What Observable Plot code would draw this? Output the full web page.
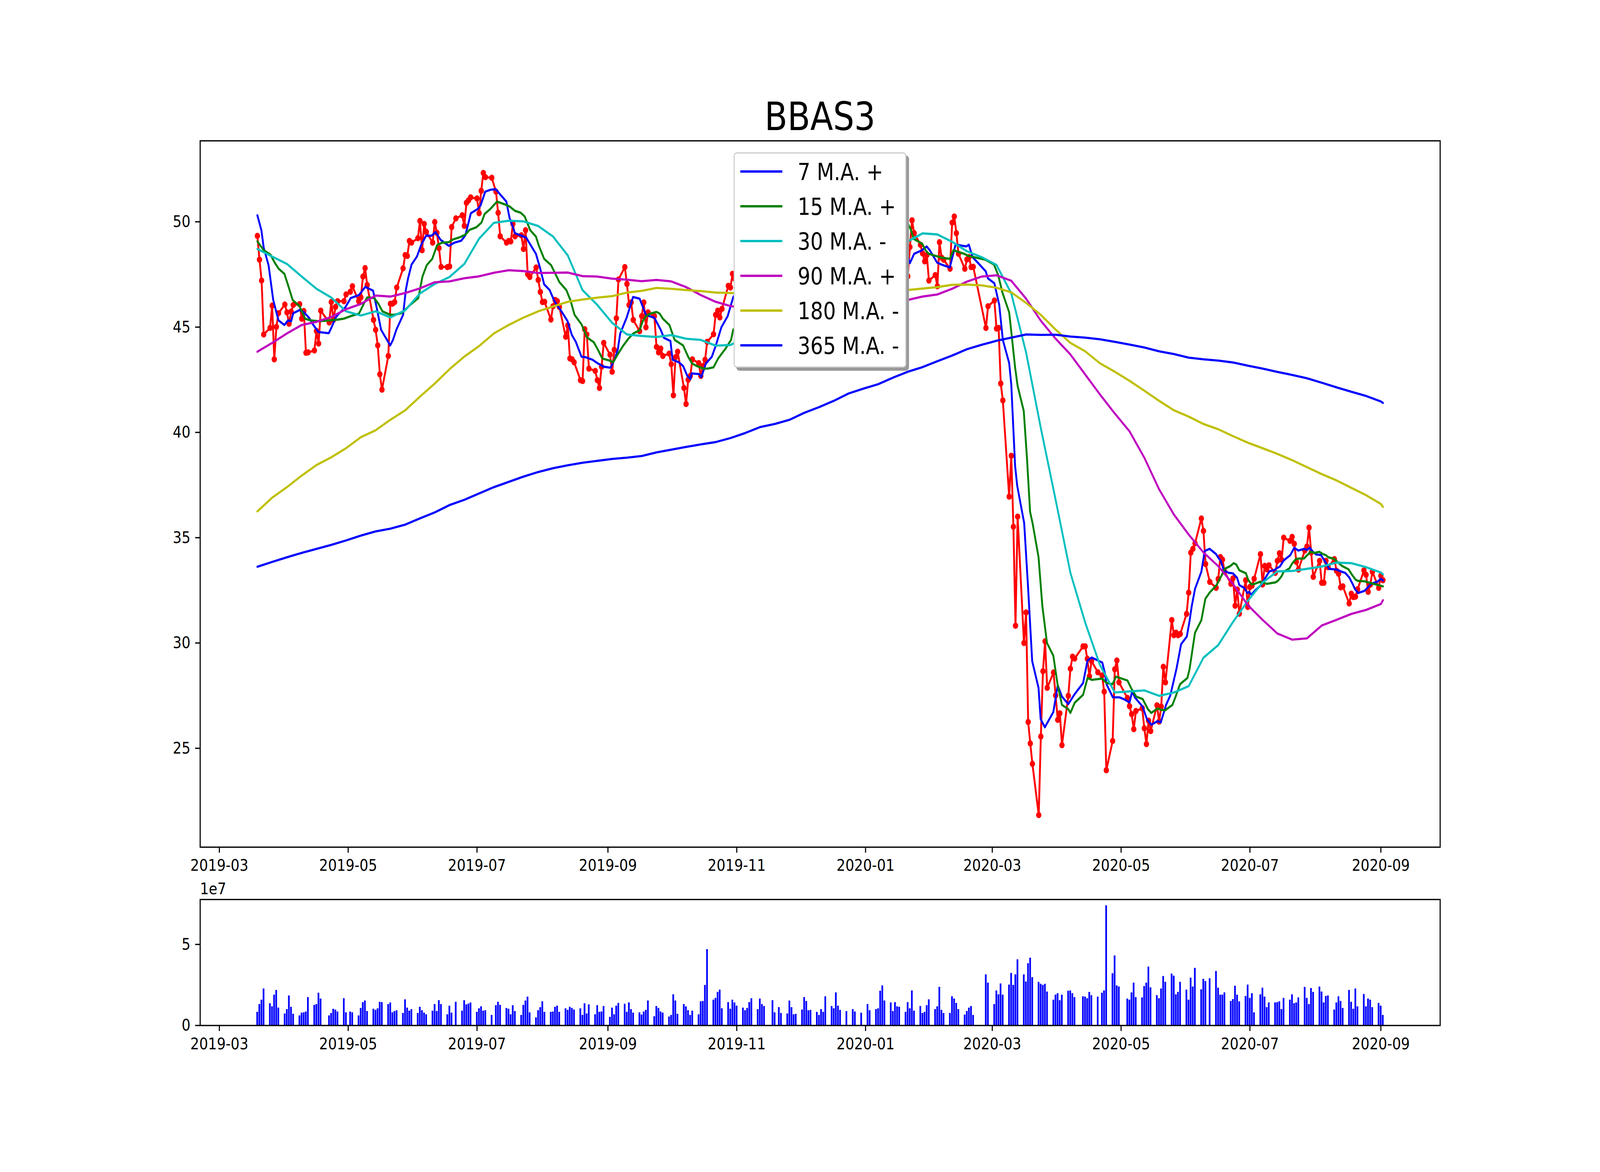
<!DOCTYPE html>
<html>
<head>
<meta charset="utf-8">
<script src="https://cdn.jsdelivr.net/npm/d3@7"></script>
<script src="https://cdn.jsdelivr.net/npm/@observablehq/plot@0.6"></script>
<style>
html,body{margin:0;padding:0;background:#fff;overflow:hidden;width:100%;height:100%;}
#fig{position:absolute;left:0;top:0;width:4800px;height:3000px;background:#fff;font-family:"DejaVu Sans",sans-serif;overflow:hidden;transform-origin:0 0;}
#title{position:absolute;left:600px;width:3720px;top:249px;text-align:center;font-size:100px;line-height:100px;color:#000;}
#main{position:absolute;left:0;top:0;}
#vol{position:absolute;left:0;top:2250px;}
#offset{position:absolute;left:600px;top:2254px;font-size:41.67px;line-height:41.67px;color:#000;}
#legend{position:absolute;left:2201px;top:390px;width:512px;height:545px;background:#fff;border:3px solid #cccccc;border-radius:9px;box-shadow:8px 8px 0 0 #999999;}
.sw{position:absolute;left:17px;width:126px;height:5.6px;}
.lab{position:absolute;left:189px;font-size:60px;line-height:60px;white-space:nowrap;color:#000;}
</style>
</head>
<body>
<div id="fig">
  <div id="main"></div>
  <div id="vol"></div>
  <div id="title">BBAS3</div>
  <div id="offset">1e7</div>
  <div id="legend"></div>
</div>
<script>
// ---------- data ----------
const TITLE = "BBAS3";
const START = "2019-03-19";
const END = "2020-09-02";
const EPOCH = "2019-03-01"; // day 0 for the moving-average key points
// B3 non-trading weekdays inside the range
const HOLIDAYS = ["2019-04-19","2019-05-01","2019-06-20","2019-07-09","2019-11-15","2019-11-20",
  "2019-12-24","2019-12-25","2019-12-31","2020-01-01","2020-02-24","2020-02-25","2020-02-26",
  "2020-04-10","2020-04-21","2020-05-01","2020-06-11"];
const X_TICK_LABELS = ["2019-03","2019-05","2019-07","2019-09","2019-11","2020-01","2020-03","2020-05","2020-07","2020-09"];
const Y_TICKS = [25,30,35,40,45,50];
const VOL_TICKS = [0,50];          // millions
const VOL_TICK_LABELS = ["0","5"]; // x 1e7

// closing price, one value per trading day
const PRICE = [
  // 2019-03
  49.33,48.20,47.21,44.65,44.96,46.02,43.47,45.01,45.66,
  // 2019-04
  46.07,45.70,45.16,45.74,46.05,46.09,45.40,45.76,43.78,43.80,43.89,44.81,44.22,45.78,45.22,46.19,45.34,45.96,46.23,46.23,46.55,
  // 2019-05
  46.68,46.94,46.23,46.41,47.40,47.80,47.00,45.34,44.87,44.13,42.76,42.03,43.63,46.11,46.11,46.19,46.88,47.79,48.42,48.38,49.09,49.01,
  // 2019-06
  49.22,50.04,48.65,49.90,49.52,49.01,49.99,49.48,48.75,47.86,47.85,47.88,49.75,50.16,50.31,49.81,50.90,51.02,51.16,
  // 2019-07
  51.11,50.41,51.47,52.32,52.12,52.09,51.43,50.43,49.31,49.01,49.09,49.07,49.90,49.31,49.36,48.71,49.60,47.51,47.38,47.83,47.24,46.67,
  // 2019-08
  46.19,46.20,45.36,45.99,46.29,46.23,45.96,44.54,45.08,43.51,43.47,43.33,42.48,42.44,44.90,44.65,43.03,42.92,42.48,42.11,43.12,44.25,
  // 2019-09
  43.69,42.88,43.92,45.42,47.26,47.85,47.05,46.05,46.17,45.34,44.81,45.52,46.17,44.99,45.70,45.52,44.06,43.80,43.98,43.63,43.74,
  // 2019-10
  43.24,41.76,43.57,43.83,42.11,41.35,42.50,42.68,43.47,43.29,42.68,43.15,43.45,44.30,44.66,45.58,45.78,45.46,45.87,46.96,46.88,47.53,47.30,
  // 2019-11
  47.8,48.3,48.9,48.6,49.2,48.8,48.1,47.6,47.9,48.4,47.7,48.0,48.5,47.6,47.2,47.5,48.1,48.6,48.9,
  // 2019-12
  49.2,49.6,49.3,49.8,50.2,50.0,49.7,50.4,50.8,51.0,50.6,51.2,51.4,51.0,50.7,51.1,51.5,51.2,50.6,
  // 2020-01
  51.3,50.8,50.5,50.9,50.2,49.6,50.1,49.8,50.4,50.7,50.0,49.6,48.5,47.41,48.8,50.07,49.46,48.91,48.5,48.12,48.42,47.21,
  // 2020-02
  47.47,46.94,49.03,48.30,48.20,47.77,49.96,50.25,49.46,48.48,47.77,48.21,48.32,47.85,47.86,44.96,45.99,
  // 2020-03
  46.26,44.93,44.96,42.32,41.52,36.95,38.89,35.52,30.82,36.00,30.00,31.45,26.25,25.23,24.26,21.83,25.56,28.66,30.08,27.87,28.60,27.51,
  // 2020-04
  26.35,26.66,25.15,27.49,28.78,29.35,29.26,29.84,29.84,29.25,28.42,29.14,28.61,28.46,27.69,23.96,25.35,28.75,29.17,28.13,
  // 2020-05
  27.39,27.00,26.62,25.91,26.77,26.90,25.95,25.20,26.31,25.82,27.04,26.27,26.98,28.87,28.13,31.09,30.37,30.49,30.37,30.43,
  // 2020-06
  31.38,32.39,34.29,34.47,34.73,35.91,35.32,33.75,32.90,32.62,33.04,34.08,33.96,33.39,32.81,33.07,31.77,32.54,31.39,32.98,31.71,
  // 2020-07
  32.66,32.72,33.05,34.22,32.78,33.66,33.50,33.69,33.33,33.90,34.26,33.95,35.00,34.85,35.04,34.71,33.85,33.49,34.39,34.58,35.48,34.30,33.14,
  // 2020-08
  33.90,32.86,32.86,33.90,33.60,33.98,33.43,33.29,32.64,32.69,31.88,32.34,32.18,32.20,32.55,33.45,33.24,32.43,32.77,33.38,32.62,
  // 2020-09
  33.19,32.98
];

// traded volume in millions, one value per trading day
const VOLUME = [
  // 2019-03
  8.3,13.1,15.8,22.7,13.6,11.7,18.9,21.8,10.9,
  // 2019-04
  7.3,10.0,18.4,11.4,7.1,6.1,7.8,8.0,8.5,17.4,12.6,13.1,20.1,16.5,6.1,7.6,10.2,9.7,8.5,16.7,8.0,
  // 2019-05
  8.5,8.0,6.1,10.7,14.3,15.3,8.8,10.2,9.5,10.5,14.5,14.3,13.1,14.1,8.0,8.8,9.3,7.6,16.0,10.9,9.0,10.0,
  // 2019-06
  7.6,11.4,9.3,7.8,6.8,9.0,13.1,8.8,15.5,13.1,6.8,12.1,7.8,14.5,9.0,15.5,12.9,13.4,14.1,
  // 2019-07
  8.3,10.5,11.7,9.0,9.3,6.4,12.4,14.5,12.6,10.7,10.2,6.8,12.4,8.8,6.4,12.6,15.3,17.7,8.0,4.9,9.3,11.2,
  // 2019-08
  14.8,8.3,8.3,8.5,11.4,12.1,8.3,10.5,9.5,11.4,10.7,9.7,10.5,6.4,13.6,7.3,12.9,6.8,12.4,8.3,8.5,11.9,
  // 2019-09
  5.2,10.9,6.8,12.1,13.8,13.3,8.3,14.1,10.0,7.8,8.0,6.6,8.5,9.5,15.3,5.6,11.9,10.7,8.5,7.8,5.4,
  // 2019-10
  6.4,19.1,15.3,7.1,13.1,11.7,9.3,6.4,9.0,6.8,14.8,15.0,24.9,47.0,15.8,16.9,20.6,22.0,10.5,14.3,10.2,15.8,14.1,
  // 2019-11
  12.1,10.9,9.3,10.7,14.3,16.7,10.0,16.5,13.1,11.9,15.5,8.0,11.2,7.6,7.3,15.3,11.2,6.8,7.1,
  // 2019-12
  9.7,17.4,15.0,9.3,9.5,8.3,6.4,10.0,8.3,17.9,11.9,10.5,20.3,12.1,9.5,8.8,10.0,8.5,7.8,
  // 2020-01
  13.1,9.3,10.0,10.5,21.3,24.6,15.3,14.1,8.8,14.3,11.7,11.4,8.3,14.3,10.5,21.5,9.0,11.9,7.6,8.3,12.4,16.0,
  // 2020-02
  10.0,11.7,23.7,9.5,7.6,7.6,17.9,16.5,13.8,10.0,6.6,8.8,10.9,11.9,6.4,31.4,26.3,
  // 2020-03
  13.1,21.5,19.1,25.8,18.9,25.1,32.3,24.9,31.4,40.7,31.4,27.0,38.3,41.7,29.7,26.8,25.6,24.9,25.6,20.8,15.8,18.9,
  // 2020-04
  19.8,15.5,18.9,21.3,21.5,19.8,17.4,17.9,17.7,16.7,20.6,18.6,17.7,20.1,21.5,74.0,32.1,43.1,24.6,23.9,
  // 2020-05
  16.5,15.8,20.3,26.3,17.4,17.2,24.2,26.3,36.2,23.4,18.6,16.7,22.7,30.4,26.8,31.9,30.6,19.1,20.6,26.8,
  // 2020-06
  22.0,15.8,29.4,23.9,35.4,22.2,28.7,27.3,29.0,33.5,23.2,18.9,18.9,20.3,15.0,16.2,24.4,18.9,14.8,18.1,25.1,
  // 2020-07
  16.9,19.8,8.0,19.1,23.2,17.7,11.2,14.1,14.1,14.3,14.8,10.0,16.9,15.8,19.1,13.6,14.1,17.2,23.7,16.9,13.1,23.0,20.6,
  // 2020-08
  23.9,20.8,14.1,18.1,18.4,9.7,14.1,17.9,15.0,10.7,21.8,14.5,10.2,22.7,11.7,19.3,11.7,16.5,15.8,11.2,13.8,
  // 2020-09
  12.1,6.4
];

// 7- and 15-day moving averages: key points [day since EPOCH, value]
const MA7_PTS = [
  [18,50.31],[19.9,49.6],[21,48.77],[23.3,47.94],[25.5,46.29],[28,45.32],[30.8,45.1],[32.5,45.32],[34,45.28],[35,45.66],
  [38,45.81],[39.9,45.72],[42.5,45.44],[44.5,45.1],[46.9,44.77],[51.8,44.71],[53.4,45.05],[55,45.44],[56.3,45.61],[59.6,45.93],
  [62.2,46.38],[66.1,46.52],[69.1,46.91],[72.8,46.73],[74.6,45.87],[76.6,44.87],[80.9,44.13],[82.2,44.39],[83.8,44.87],[87,45.58],
  [88.3,46.76],[89.3,47.29],[91,47.97],[93.6,48.36],[95.5,48.89],[97.9,49.34],[100.5,49.34],[102.4,49.51],[104.7,49.15],[108.6,48.86],
  [111.3,49.01],[114.5,49.1],[116.5,49.36],[119.1,50.41],[122.4,50.61],[123.7,50.78],[125.9,51.43],[128.3,51.52],[130.9,51.55],[132.8,51.32],
  [135.9,50.96],[137.4,50.19],[140,49.46],[144,49.3],[145.3,49.25],[147.9,48.81],[149.9,48.48],[151.8,47.83],[153.8,47.03],[156.4,46.76],
  [158.4,46.29],[159.7,46.05],[161.6,45.81],[164.9,45.28],[166.9,44.63],[168.8,44.3],[171.5,43.59],[173.4,43.57],[176.7,43.45],[179.3,43.27],
  [182,43.12],[185.2,43.07],[187.2,43.47],[188.7,43.95],[189.8,44.69],[192.9,45.46],[195.9,46.43],[199,46.35],[202,45.58],[206,45.44],
  [209,44.87],[210.5,44.49],[213.6,44.34],[214.6,43.45],[217.6,43.33],[219.6,43.15],[221.6,42.68],[223.1,42.53],[223.6,42.8],[227.2,42.77],
  [228.2,42.62],[230.4,43.27],[233.2,43.59],[235.2,44.16],[237.7,44.99],[240.7,45.52],[243.3,46.41],
  [249,47.3],[256,48.2],[263,48.5],[270,48.2],[277,48.0],[284,48.7],[291,49.5],[298,50.3],[305,50.8],[312,50.6],[319,50.0],
  [326,48.36],[327,48.04],[329,48.48],[332.7,48.65],[334.9,48.83],[336.4,48.65],[339.9,48.06],[341.9,47.97],[345.9,47.83],[348.6,48.91],
  [350.1,48.89],[353.7,48.83],[354.9,48.91],[356.7,48.32],[359.7,48.0],[362.9,47.65],[363.9,47.32],[367,47.08],[369.3,46.05],[371,44.39],
  [374,43.29],[375,42.27],[376.8,38.42],[377.8,37.47],[379.6,36.5],[381.1,35.7],[382.9,32.72],[384.9,29.14],[387.9,27.87],[388.9,26.39],
  [390.9,26.0],[394.9,26.72],[397,27.99],[399,27.45],[402,27.1],[405,27.57],[409,28.1],[411.1,29.17],[413.1,29.31],[418.1,29.07],
  [419.3,28.58],[420.1,28.04],[423.1,27.42],[426.2,27.42],[428.2,27.34],[431,27.18],[432.2,27.69],[433.7,27.39],[437.2,26.98],[439.2,26.39],
  [441.3,26.12],[444.3,26.29],[445.8,26.23],[448.3,27.06],[450.3,27.51],[453.3,28.81],[455.4,29.94],[458.1,30.3],[459.3,30.97],[460.4,31.72],
  [462,32.57],[465,33.38],[466.6,34.37],[468.9,34.47],[471.9,34.23],[473.1,34.04],[474.2,33.9],[475.7,33.43],[478,33.33],[479.9,33.31],
  [481.9,33.1],[483,32.75],[485.3,32.62],[486.8,32.37],[487.6,32.43],[488.7,32.29],[490.3,32.48],[493.3,32.75],[495.2,33.07],[497.2,33.4],
  [499.8,33.47],[501,33.57],[502.1,33.62],[504,33.92],[507.1,34.17],[509,34.52],[510.9,34.39],[513.6,34.47],[515.1,34.42],[516.3,34.52],
  [517.8,34.33],[519.4,34.2],[521.6,34.18],[523.9,33.82],[525.5,33.52],[528.9,33.49],[531.6,33.38],[533.1,33.33],[535,33.12],[536.6,32.81],
  [537.7,32.57],[539.2,32.37],[542.3,32.48],[545.4,32.81],[548.4,32.91],[550,33.05],[551,32.97]
];
const MA15_PTS = [
  [18,49.07],[21,48.65],[24.2,48.44],[26.2,48.06],[28.1,47.77],[30.8,47.53],[32.7,46.94],[34.7,46.29],[38,45.99],[40.6,45.4],
  [43.2,45.32],[47.1,45.28],[52.4,45.32],[56.3,45.36],[58.9,45.4],[62.2,45.52],[66.1,45.64],[68.7,46.17],[70,46.41],[73.3,46.38],
  [75.3,46.11],[77.2,45.75],[80.5,45.6],[82.5,45.58],[86.4,45.67],[90.3,46.05],[94.2,46.38],[96.2,47.41],[98.2,47.94],[100.8,48.24],
  [103.1,48.89],[105.4,49.01],[108.6,49.03],[110.6,49.16],[113.9,49.27],[116.5,49.39],[118.5,49.62],[121.7,49.74],[124.1,49.96],[125.6,50.37],
  [128.3,50.61],[131.5,50.96],[134.8,50.84],[137.4,50.73],[140,50.52],[142.7,50.43],[144.6,50.25],[147.2,49.6],[149.9,49.3],[151.2,48.89],
  [153.8,48.24],[157.1,47.94],[161,47.14],[164.3,46.76],[166.2,46.29],[168.2,45.58],[171.5,45.13],[174.1,44.51],[177.3,44.28],[179.3,43.92],
  [181.3,43.51],[184.5,43.42],[186.5,43.33],[188.5,43.68],[191.1,44.1],[193.7,44.45],[195.9,44.69],[199,44.85],[200.5,45.28],[202,45.52],
  [204,45.64],[207,45.72],[208.5,45.64],[210,45.4],[213.1,45.1],[215.6,44.39],[219.6,44.13],[222.1,43.57],[223.9,43.27],[226.1,43.15],
  [229.2,43.03],[231.2,43.03],[234,43.09],[236.2,43.51],[239.7,43.98],[242.3,44.39],[243.3,44.87],
  [249,45.5],[256,46.6],[263,47.5],[270,48.0],[277,48.2],[284,48.4],[291,48.9],[298,49.6],[305,50.2],[312,50.5],[319,50.3],
  [325.8,49.96],[327.3,49.66],[328.8,49.19],[332.9,48.95],[334.4,48.65],[335.9,48.48],[339.9,48.36],[341.9,48.3],[345.9,48.24],[347.6,48.65],
  [352.7,48.48],[354.7,48.38],[362.7,48.2],[366.8,47.97],[368.8,47.47],[370.8,46.64],[374,45.7],[375.3,44.51],[376.8,43.09],[378,42.21],
  [380.9,41.02],[382.4,38.83],[383.9,36.23],[385.1,35.68],[387.9,34.08],[389.7,31.77],[391.9,30.0],[394.9,29.4],[397,27.98],[399,27.06],
  [402,26.86],[403,26.68],[405,27.16],[409,27.54],[411.1,28.34],[413.1,28.25],[418.1,28.31],[420.1,28.1],[422.9,28.04],[424.6,28.4],
  [430,28.22],[432,27.81],[434.2,27.45],[437.2,27.34],[439.7,26.86],[441.3,26.68],[444.3,26.9],[445.8,26.83],[447.8,26.8],[451.3,27.06],
  [452.8,27.45],[454.9,28.04],[458.4,28.34],[459.4,28.75],[462,30.49],[465,31.08],[466.9,32.1],[468.9,32.39],[472.3,32.76],[473.8,33.05],
  [476.1,33.52],[478.8,33.66],[480.3,33.79],[481.5,33.73],[483,33.45],[486.1,33.31],[487.2,33.0],[488.7,32.78],[490.3,32.81],[492.9,32.91],
  [496,32.81],[500.2,32.88],[501.4,32.97],[502.9,33.16],[504,33.38],[506.7,33.54],[507.9,33.76],[509.8,33.99],[511.3,34.01],[513.6,34.01],
  [516.7,34.33],[518.6,34.28],[520.9,34.33],[522.4,34.23],[524,34.17],[525.1,34.07],[527.8,34.0],[530.1,33.79],[531.6,33.66],[534.7,33.5],
  [536.2,33.26],[538.1,33.0],[539.2,32.95],[542.3,32.93],[545.4,32.84],[548.4,32.76],[551,32.69]
];

// slower moving averages, read weekly (every Tuesday from START, plus END)
const MA30 = [
  48.71,48.35,48.0,47.4,46.82,46.4,45.75,45.55,45.75,45.46,
  45.8,46.6,47.05,47.38,48.0,49.2,49.95,50.05,50.02,49.8,
  49.3,48.4,46.75,46.05,45.2,44.65,44.58,44.53,44.62,44.45,
  44.39,44.12,44.15,44.5,45.2,46.0,46.8,47.4,47.8,48.2,
  48.6,49.0,49.2,49.1,49.07,49.45,49.4,49.05,48.6,48.32,
  47.95,46.6,43.8,40.2,36.8,33.33,30.97,28.95,27.65,27.7,
  27.75,27.49,27.65,27.95,29.3,29.9,31.0,32.0,32.87,33.4,
  33.42,33.52,33.63,33.82,33.79,33.6,33.35,33.26];
const MA90 = [
  43.83,44.25,44.7,45.1,45.25,45.48,45.85,46.1,46.5,46.45,
  46.62,46.84,47.13,47.17,47.32,47.41,47.58,47.7,47.66,47.57,
  47.58,47.59,47.42,47.4,47.3,47.25,47.18,47.24,47.17,46.9,
  46.52,46.2,46.0,45.9,45.8,45.75,45.7,45.7,45.75,45.85,
  46.0,46.1,46.2,46.25,46.29,46.45,46.55,46.82,47.16,47.4,
  47.46,47.2,46.35,45.3,44.45,43.7,42.75,41.8,40.9,40.05,
  38.8,37.3,36.1,35.15,34.3,33.65,32.8,31.8,31.1,30.45,
  30.16,30.22,30.83,31.1,31.38,31.57,31.85,32.03];
const MA180 = [
  36.25,36.9,37.4,37.95,38.45,38.82,39.25,39.77,40.1,40.6,
  41.05,41.7,42.32,43.0,43.6,44.1,44.7,45.1,45.45,45.75,
  45.98,46.2,46.31,46.4,46.47,46.64,46.72,46.86,46.82,46.76,
  46.71,46.64,46.62,46.6,46.58,46.56,46.55,46.56,46.58,46.6,
  46.63,46.66,46.7,46.73,46.76,46.83,46.9,47.01,47.02,46.98,
  46.87,46.65,46.15,45.58,44.88,44.25,43.85,43.28,42.88,42.45,
  41.98,41.5,41.05,40.75,40.4,40.15,39.82,39.51,39.25,38.98,
  38.68,38.35,38.02,37.72,37.37,37.02,36.6,36.46];
const MA365 = [
  33.62,33.85,34.07,34.28,34.47,34.66,34.87,35.1,35.3,35.43,
  35.62,35.92,36.2,36.55,36.8,37.1,37.4,37.65,37.9,38.12,
  38.3,38.44,38.56,38.65,38.74,38.8,38.88,39.05,39.18,39.31,
  39.43,39.54,39.73,39.97,40.25,40.4,40.6,40.93,41.2,41.5,
  41.85,42.08,42.29,42.6,42.88,43.1,43.38,43.65,43.95,44.16,
  44.35,44.5,44.65,44.63,44.64,44.55,44.5,44.42,44.3,44.17,
  44.03,43.85,43.72,43.55,43.47,43.41,43.32,43.17,43.03,42.87,
  42.73,42.57,42.36,42.14,41.93,41.73,41.47,41.4];

const SERIES_LABELS = ["7 M.A. +","15 M.A. +","30 M.A. -","90 M.A. +","180 M.A. -","365 M.A. -"];
const SERIES_COLORS = ["#0000ff","#008000","#00bfbf","#bf00bf","#bfbf00","#0000ff"];
const PRICE_COLOR = "#ff0000";
const VOL_COLOR = "#0000ff";

// ---------- build ----------
const DAY = 864e5;
const parse = d3.utcParse("%Y-%m-%d");
const fmt = d3.utcFormat("%Y-%m-%d");
const t0 = parse(START), t1 = parse(END), epoch = parse(EPOCH);
const hol = new Set(HOLIDAYS);
const tradingDays = d3.utcDay.range(t0, d3.utcDay.offset(t1, 1))
  .filter(d => d.getUTCDay() > 0 && d.getUTCDay() < 6 && !hol.has(fmt(d)));
const n = Math.min(tradingDays.length, PRICE.length, VOLUME.length);
const daily = d3.range(n).map(i => ({date: tradingDays[i], close: PRICE[i], vol: VOLUME[i]}));

const weekly = d3.utcDay.range(t0, d3.utcDay.offset(t1, 1), 7);
if (+weekly[weekly.length - 1] !== +t1) weekly.push(t1);
const fromWeekly = vals => d3.range(Math.min(vals.length, weekly.length)).map(i => ({date: weekly[i], value: vals[i]}));
const fromPts = pts => pts.map(([d, v]) => ({date: new Date(+epoch + d * DAY), value: v}));
const maData = [fromPts(MA7_PTS), fromPts(MA15_PTS), fromWeekly(MA30), fromWeekly(MA90), fromWeekly(MA180), fromWeekly(MA365)];

// matplotlib-like autoscale (5% margins)
const xa = +daily[0].date - 0.4 * DAY, xb = +daily[daily.length - 1].date + 0.4 * DAY;
const xpad = 0.05 * (xb - xa);
const xDomain = [new Date(xa - xpad), new Date(xb + xpad)];
const allY = PRICE.concat(...maData.map(s => s.map(d => d.value)));
const ymin = d3.min(allY), ymax = d3.max(allY), ypad = 0.05 * (ymax - ymin);
const yDomain = [ymin - ypad, ymax + ypad];
const volMax = d3.max(VOLUME) * 1.05;
const xTicks = X_TICK_LABELS.map(s => parse(s + "-01"));

const FONT = '"DejaVu Sans", sans-serif';
const FS = 41.67, TICK = 14.6, LW = 3.3;
const baseStyle = {fontFamily: FONT, fontSize: FS + "px", color: "#000", background: "transparent", maxWidth: "none", overflow: "visible"};

const xAxis = () => Plot.axisX({ticks: xTicks, tickFormat: d3.utcFormat("%Y-%m"), tickSize: TICK, tickPadding: 16.5,
  strokeWidth: LW, fontSize: FS, label: null});

const main = Plot.plot({
  width: 4800, height: 2300,
  marginLeft: 600, marginRight: 480, marginTop: 360, marginBottom: 132,
  style: baseStyle,
  x: {type: "utc", domain: xDomain},
  y: {domain: yDomain},
  marks: [
    Plot.line(daily, {x: "date", y: "close", stroke: PRICE_COLOR, strokeWidth: 5.6}),
    Plot.dot(daily, {x: "date", y: "close", r: 8, fill: PRICE_COLOR, stroke: "none"}),
    ...maData.map((d, s) => Plot.line(d, {x: "date", y: "value", stroke: SERIES_COLORS[s], strokeWidth: 5.6})),
    xAxis(),
    Plot.axisY({ticks: Y_TICKS, tickFormat: d => String(d), tickSize: TICK, tickPadding: 14.6,
      strokeWidth: LW, fontSize: FS, label: null}),
    Plot.frame({stroke: "#000", strokeWidth: LW})
  ]
});
document.getElementById("main").appendChild(main);

const vol = Plot.plot({
  width: 4800, height: 750,
  marginLeft: 600, marginRight: 480, marginTop: 52, marginBottom: 375.5,
  style: baseStyle,
  x: {type: "utc", domain: xDomain},
  y: {domain: [0, volMax]},
  marks: [
    Plot.rect(daily, {x1: d => new Date(+d.date - 0.4 * DAY), x2: d => new Date(+d.date + 0.4 * DAY),
      y1: 0, y2: "vol", fill: VOL_COLOR}),
    xAxis(),
    Plot.axisY({ticks: VOL_TICKS, tickFormat: d => VOL_TICK_LABELS[VOL_TICKS.indexOf(d)], tickSize: TICK,
      tickPadding: 14.6, strokeWidth: LW, fontSize: FS, label: null}),
    Plot.frame({stroke: "#000", strokeWidth: LW})
  ]
});
document.getElementById("vol").appendChild(vol);

document.getElementById("title").textContent = TITLE;

// legend
const leg = document.getElementById("legend");
const ROW0 = 46, ROWSTEP = 89;
SERIES_LABELS.forEach((lab, i) => {
  const cy = ROW0 + i * ROWSTEP;
  const sw = document.createElement("div");
  sw.className = "sw";
  sw.style.top = (cy - 2.8) + "px";
  sw.style.background = SERIES_COLORS[i];
  leg.appendChild(sw);
  const t = document.createElement("div");
  t.className = "lab";
  t.style.top = (cy - 28.8) + "px";
  t.textContent = lab;
  leg.appendChild(t);
});

// fit the 4800x3000 figure to the actual viewport
function fit() {
  const W = document.documentElement.clientWidth || window.innerWidth || 4800;
  const H = document.documentElement.clientHeight || window.innerHeight || 3000;
  document.getElementById("fig").style.transform = `scale(${W / 4800}, ${H / 3000})`;
}
fit();
window.addEventListener("resize", fit);
</script>
</body>
</html>
